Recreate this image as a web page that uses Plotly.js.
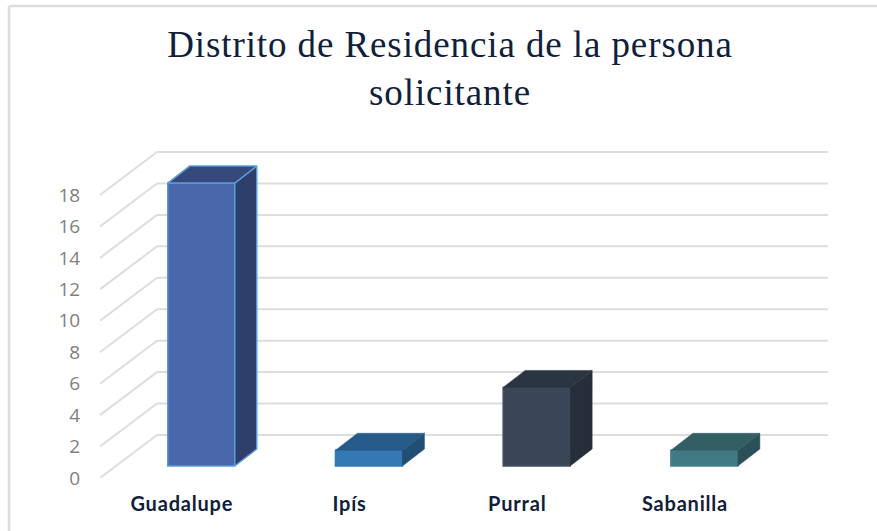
<!DOCTYPE html>
<html>
<head>
<meta charset="utf-8">
<script src="https://cdn.plot.ly/plotly-3.0.1.min.js"></script>
<style>
html,body{margin:0;padding:0;background:#fff}
#c{width:877px;height:531px}
.gtitle{letter-spacing:0.9px}
.xtick text{letter-spacing:0.8px}
</style>
</head>
<body>
<div id="c"></div>
<script>
const categories = ['Guadalupe', 'Ipís', 'Purral', 'Sabanilla'];
const values = [18, 1, 5, 1];
const tickValues = [0, 2, 4, 6, 8, 10, 12, 14, 16, 18];
const frontColors = ['#4A67AC', '#3478B4', '#3A4658', '#417A84'];
const topColors = ['#35497A', '#265A88', '#2B3441', '#315F64'];
const sideColors = ['#2E3F6C', '#214E75', '#272E3A', '#2B5156'];
const edgeColors = ['#5B9BD5', '#3478B4', '#454F60', '#4A818A'];

// oblique projection, in axis units
const W = 877, H = 531, L = 100, R = 830, T = 148, B = 478;
const catPx = 167.7, unitPx = 15.72;
const wallDx = 57 / catPx, wallDy = 43 / unitPx;
const barW = 67 / catPx, nearD = 12 / 43, farD = 29 / 43;
const xs = i => i + nearD * wallDx + 1.5 / catPx;
const hw = barW / 2;
const dX = 22 / catPx, dY = (farD - nearD) * wallDy, baseY = nearD * wallDy;

const traces = [];
traces.push({
  type: 'bar', x: categories.map((_, i) => xs(i)), y: values, base: baseY, width: barW,
  marker: {color: frontColors, line: {color: edgeColors, width: 1.5}}, hoverinfo: 'skip', showlegend: false
});
categories.forEach((_, i) => {
  const x0 = xs(i) - hw, x1 = xs(i) + hw, b = baseY, t = baseY + values[i];
  traces.push({type: 'scatter', mode: 'lines', fill: 'toself', fillcolor: sideColors[i],
    x: [x1, x1 + dX, x1 + dX, x1, x1], y: [b, b + dY, t + dY, t, b],
    line: {color: i === 0 ? edgeColors[0] : sideColors[i], width: i === 0 ? 1.5 : 0.5}, hoverinfo: 'skip', showlegend: false});
  traces.push({type: 'scatter', mode: 'lines', fill: 'toself', fillcolor: topColors[i],
    x: [x0, x0 + dX, x1 + dX, x1, x0], y: [t, t + dY, t + dY, t, t],
    line: {color: i === 0 ? edgeColors[0] : topColors[i], width: i === 0 ? 1.5 : 0.5}, hoverinfo: 'skip', showlegend: false});
});

const gridLine = {color: '#DDDDDD', width: 2};
const shapes = [];
tickValues.forEach(v => {
  shapes.push({type: 'line', layer: 'below', xref: 'x', yref: 'y', x0: -0.5, y0: v, x1: -0.5 + wallDx, y1: v + wallDy, line: gridLine});
  shapes.push({type: 'line', layer: 'below', xref: 'x', yref: 'y', x0: -0.5 + wallDx, y0: v + wallDy, x1: 3.5 + wallDx, y1: v + wallDy, line: gridLine});
});
const px = x => (x - L) / (R - L), py = y => (B - y) / (B - T);
const border = {color: '#DCDCDC', width: 2.5};
shapes.push({type: 'line', layer: 'below', xref: 'paper', yref: 'paper', x0: px(9), y0: py(6), x1: px(W), y1: py(6), line: border});
shapes.push({type: 'line', layer: 'below', xref: 'paper', yref: 'paper', x0: px(9), y0: py(6), x1: px(9), y1: py(H), line: border});

const layout = {
  width: W, height: H, autosize: false,
  margin: {l: L, r: W - R, t: T, b: H - B, pad: 0},
  paper_bgcolor: '#fff', plot_bgcolor: 'rgba(0,0,0,0)', showlegend: false,
  title: {text: 'Distrito de Residencia de la persona<br>solicitante',
    font: {family: '"Liberation Serif", serif', size: 37, color: '#10203A'},
    x: 450 / W, xanchor: 'center', y: 1 - 57 / H, yanchor: 'middle'},
  xaxis: {type: 'linear', range: [-0.5, -0.5 + (R - L) / catPx], tickmode: 'array', tickvals: [0, 1, 2, 3].map(i => i - 2 / catPx), ticktext: categories,
    showgrid: false, zeroline: false, showline: false, ticks: 'outside', ticklen: 8, tickcolor: 'rgba(0,0,0,0)',
    tickfont: {family: 'Lato, sans-serif', size: 20, weight: 700, color: '#10203A'}},
  yaxis: {range: [0, (B - T) / unitPx], tickmode: 'array', tickvals: tickValues,
    showgrid: false, zeroline: false, showline: false, ticks: 'outside', ticklen: 15, tickcolor: 'rgba(0,0,0,0)',
    tickfont: {family: '"Open Sans", sans-serif', size: 19, color: '#7F7F7F'}},
  shapes: shapes
};
Plotly.newPlot('c', traces, layout, {displayModeBar: false, staticPlot: true});
</script>
</body>
</html>
